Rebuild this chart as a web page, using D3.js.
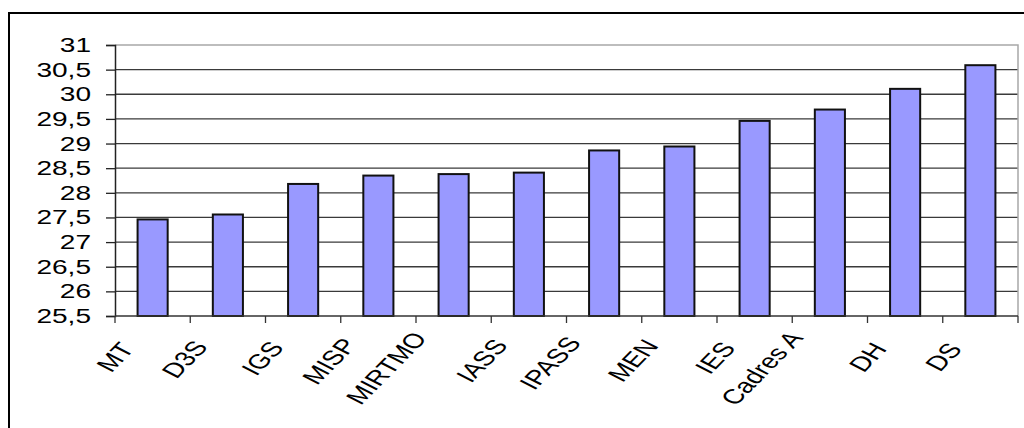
<!DOCTYPE html>
<html>
<head>
<meta charset="utf-8">
<script src="https://cdn.jsdelivr.net/npm/d3@7/dist/d3.min.js"></script>
<style>
  html, body { margin: 0; padding: 0; background: #fff; }
  svg { display: block; }
  text { font-family: "Liberation Sans", Arial, sans-serif; fill: #000; }
</style>
</head>
<body>
<div id="chart"></div>
<script>
// categories and values
var categories = ["MT", "D3S", "IGS", "MISP", "MIRTMO", "IASS", "IPASS", "MEN", "IES", "Cadres A", "DH", "DS"];
var values = [27.46, 27.56, 28.18, 28.35, 28.38, 28.41, 28.86, 28.94, 29.46, 29.69, 30.11, 30.59];
var yTicks = [25.5, 26, 26.5, 27, 27.5, 28, 28.5, 29, 29.5, 30, 30.5, 31];

var vWidth = 1024, vHeight = 428;
var plot = { left: 115, right: 1018, top: 45, bottom: 316 };

var svg = d3.select("#chart")
    .append("svg")
    .attr("width", vWidth)
    .attr("height", vHeight);

// outer chart frame (runs off the right and bottom edge)
svg.append("rect")
    .attr("x", 9).attr("y", 13)
    .attr("width", 1040).attr("height", 440)
    .attr("fill", "#fff")
    .attr("stroke", "#000")
    .attr("stroke-width", 2);

var x = d3.scaleBand()
    .domain(categories)
    .range([plot.left, plot.right])
    .paddingInner(0)
    .paddingOuter(0);

var y = d3.scaleLinear()
    .domain([25.5, 31])
    .range([plot.bottom, plot.top]);

var fr = d3.formatLocale({ decimal: ",", thousands: " ", grouping: [3], currency: ["", ""] });
var fmt = fr.format(".1~f");

// gridlines
svg.append("g")
    .selectAll("line")
    .data(yTicks.filter(function (d) { return d > 25.5 && d < 31; }))
    .enter()
    .append("line")
    .attr("x1", plot.left).attr("x2", plot.right)
    .attr("y1", function (d) { return y(d); })
    .attr("y2", function (d) { return y(d); })
    .attr("stroke", "#3a3a3a")
    .attr("stroke-width", 1.3);

// plot area border top/right
svg.append("path")
    .attr("d", "M" + plot.left + "," + y(31) + "H" + plot.right + "V" + plot.bottom)
    .attr("fill", "none")
    .attr("stroke", "#a8a8a8")
    .attr("stroke-width", 1.5);

// bars
var barW = x.bandwidth() * 0.4;
svg.append("g")
    .selectAll("rect")
    .data(values)
    .enter()
    .append("rect")
    .attr("x", function (d, i) { return x(categories[i]) + (x.bandwidth() - barW) / 2; })
    .attr("y", function (d) { return y(d); })
    .attr("width", barW)
    .attr("height", function (d) { return y(25.5) - y(d); })
    .attr("fill", "#9999ff")
    .attr("stroke", "#111")
    .attr("stroke-width", 2);

// y axis
var gY = svg.append("g")
    .attr("transform", "translate(" + plot.left + ",0)")
    .call(d3.axisLeft(y).tickValues(yTicks).tickSize(9).tickPadding(0).tickFormat(""));
gY.select(".domain").attr("stroke", "#222").attr("stroke-width", 1.5);
gY.selectAll(".tick line").attr("stroke", "#222").attr("stroke-width", 1.3);

svg.append("g")
    .selectAll("text")
    .data(yTicks)
    .enter()
    .append("text")
    .attr("transform", function (d) { return "translate(91," + y(d) + ") scale(1.44,1)"; })
    .attr("text-anchor", "end")
    .attr("dy", "0.36em")
    .style("font-size", "19.5px")
    .text(function (d) { return fmt(d); });

// x axis: ticks on category boundaries
var bounds = categories.map(function (c) { return x(c); }).concat([plot.right]);
svg.append("line")
    .attr("x1", plot.left).attr("x2", plot.right)
    .attr("y1", plot.bottom).attr("y2", plot.bottom)
    .attr("stroke", "#333").attr("stroke-width", 1.5);
svg.append("g")
    .selectAll("line")
    .data(bounds)
    .enter()
    .append("line")
    .attr("x1", function (d) { return d; }).attr("x2", function (d) { return d; })
    .attr("y1", plot.bottom).attr("y2", plot.bottom + 7)
    .attr("stroke", "#333").attr("stroke-width", 1.3);

// rotated labels, stretched sideways like the source picture
var xLabels = svg.append("g")
    .selectAll("text")
    .data(categories)
    .enter()
    .append("text")
    .attr("text-anchor", "middle")
    .attr("dy", "0.35em")
    .style("font-size", "20.5px")
    .text(function (d) { return d; });

xLabels.attr("transform", function (d) {
    var len = this.getComputedTextLength();
    var cx = x(d) + x.bandwidth() / 2 - 21 - 0.561 * len;
    var cy = plot.bottom + 34.9 + 0.2056 * len;
    return "translate(" + cx + "," + cy + ") scale(1.4,1) rotate(-54.5)";
});
</script>
</body>
</html>
